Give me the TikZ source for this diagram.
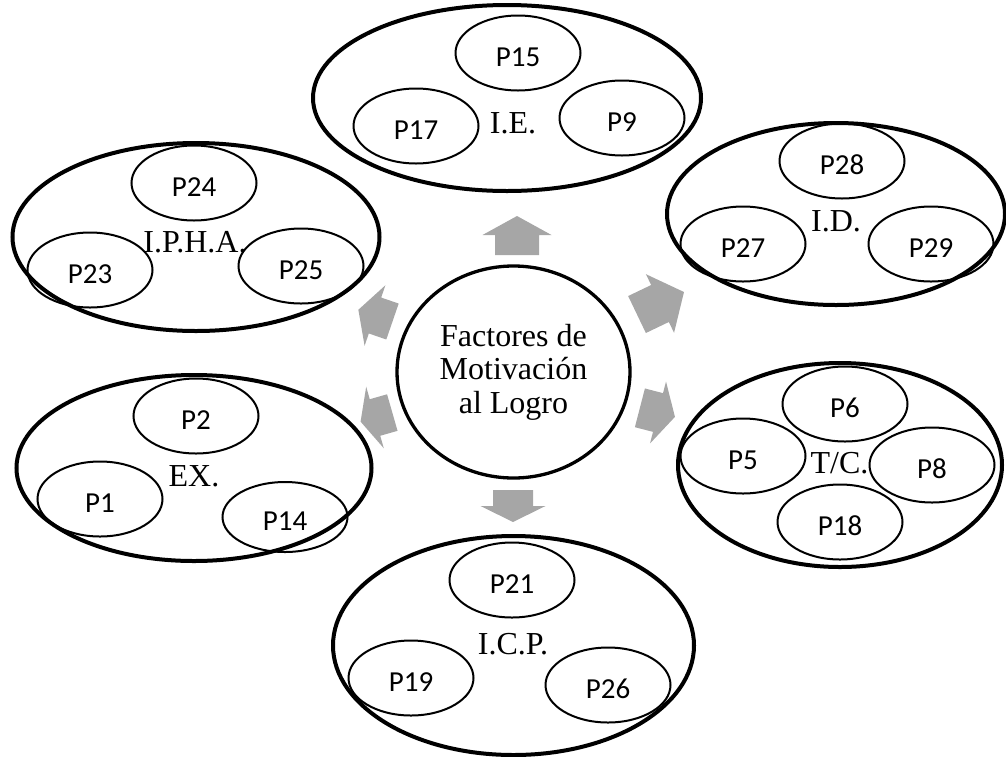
\documentclass[tikz,border=0pt]{standalone}
\usepackage{fontspec}
\setmainfont{Liberation Serif}
\newfontfamily\calib{Carlito}
\usetikzlibrary{shapes.geometric}
\definecolor{arrowgray}{RGB}{166,166,166}
\tikzset{
  outerell/.style={ellipse, draw, line width=4pt, inner sep=0pt},
  inell/.style={ellipse, draw, line width=2pt, inner sep=0pt, minimum width=125pt, minimum height=75pt, text height=27pt, text depth=0pt, font=\calib\fontsize{29}{29}\selectfont},
  lbl/.style={anchor=base, inner sep=0pt, font=\fontsize{32}{33.5}\selectfont},
  hub/.style={ellipse, draw, line width=3.3pt, inner sep=0pt, align=center, font=\fontsize{32}{33.5}\selectfont},
}
\newcommand\garrow[7]{\fill[arrowgray,shift={(#1,#2)},rotate=#3] (-#4,-#6) -- (0,-#6) -- (0,-#7) -- (#5,0) -- (0,#7) -- (0,#6) -- (-#4,#6) -- cycle;}
\begin{document}
\begin{tikzpicture}[x=1pt,y=-1pt]
\useasboundingbox (0,0) rectangle (1006,756);
% outer groups
\node[outerell, minimum width=388pt, minimum height=186pt] (ie) at (507,98) {};
\node[outerell, minimum width=338pt, minimum height=182pt] (id) at (836,214) {};
\node[outerell, minimum width=367pt, minimum height=188pt] (ipha) at (196,237) {};
\node[outerell, minimum width=355pt, minimum height=186pt] (ex) at (194,468) {};
\node[outerell, minimum width=324pt, minimum height=204pt] (tc) at (840,465) {};
\node[outerell, minimum width=361pt, minimum height=219pt] (icp) at (513.5,645.5) {};
% hub
\node[hub, minimum width=233pt, minimum height=212pt] (center) at (513.5,372) {Factores de\\Motivación\\al Logro};
% I.E.
\node[inell] (p15) at (518,53) {P15};
\node[inell] (p17) at (416,126) {P17};
\node[inell] (p9) at (622,118) {P9};
\node[lbl] (ielbl) at (513,133) {I.E.};
% I.D.
\node[inell] (p28) at (842,161) {P28};
\node[inell] (p27) at (743,244) {P27};
\node[inell] (p29) at (931,244) {P29};
\node[lbl] (idlbl) at (836,231) {I.D.};
% I.P.H.A.
\node[inell] (p24) at (194,183) {P24};
\node[inell] (p23) at (90,270) {P23};
\node[inell] (p25) at (301,266) {P25};
\node[lbl] (iphalbl) at (195,252) {I.P.H.A.};
% EX.
\node[inell] (p2) at (196,416) {P2};
\node[inell] (p1) at (100,499) {P1};
\node[inell, minimum height=70pt] (p14) at (285,517) {P14};
\node[lbl] (exlbl) at (194,486) {EX.};
% T/C.
\node[inell] (p6) at (845,404) {P6};
\node[inell] (p5) at (743,456) {P5};
\node[inell] (p8) at (932,465) {P8};
\node[inell] (p18) at (840,522) {P18};
\node[lbl] (tclbl) at (839.5,473) {T/C.};
% I.C.P.
\node[inell] (p21) at (512,580) {P21};
\node[inell] (p19) at (411,678) {P19};
\node[inell] (p26) at (608,685) {P26};
\node[lbl] (icplbl) at (513,654) {I.C.P.};
% radial block arrows
\garrow{517}{235}{90}{20}{19}{22}{34.5}
\garrow{513}{506}{-90}{16}{16}{20}{32.5}
\garrow{660}{303.5}{25.6}{25.5}{26.6}{20.5}{32.5}
\garrow{658}{412.5}{-14.5}{18.7}{17.5}{20}{32}
\garrow{375}{315.5}{161}{18.5}{17.6}{19}{32}
\garrow{375}{417.5}{196}{18}{15}{19}{32}
\end{tikzpicture}
\end{document}
